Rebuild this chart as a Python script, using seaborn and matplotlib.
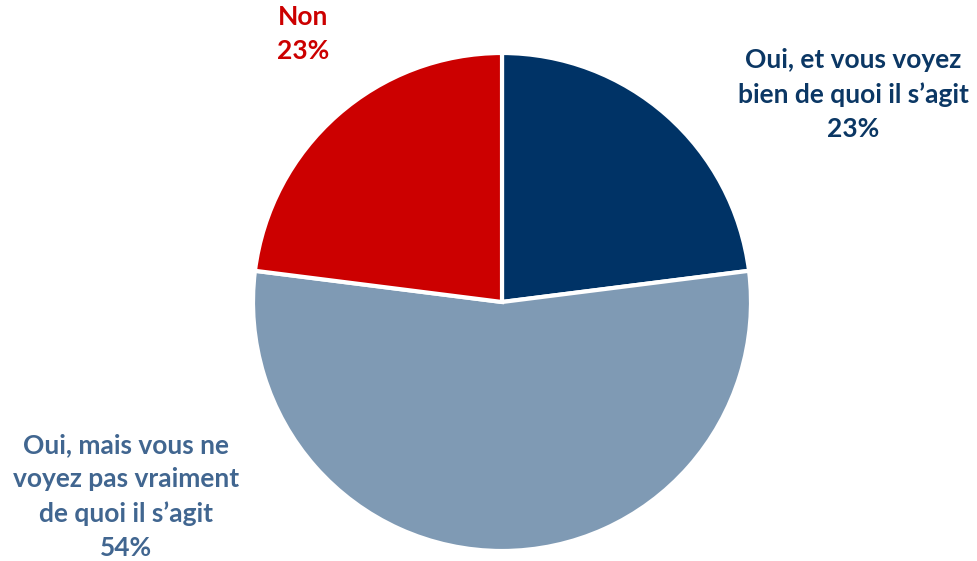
import matplotlib
matplotlib.use("Agg")
import matplotlib.pyplot as plt
import seaborn as sns

categories = ["Oui, et vous voyez\nbien de quoi il s\u2019agit",
              "Oui, mais vous ne\nvoyez pas vraiment\nde quoi il s\u2019agit",
              "Non"]
values = [23, 54, 23]
wedge_colors = ["#003366", "#7f9ab4", "#cc0000"]
label_colors = ["#0b3764", "#416690", "#cc0000"]

sns.set_theme(style="white")
plt.rcParams['font.family'] = ['Lato', 'DejaVu Sans']

W, H = 978, 561
fig = plt.figure(figsize=(W / 100, H / 100), dpi=100)
cx, cy, r = 502, 302, 249
ax = fig.add_axes([(cx - r) / W, (H - cy - r) / H, 2 * r / W, 2 * r / H])

ax.pie(values, colors=wedge_colors, startangle=90, counterclock=False,
       radius=1.0, wedgeprops=dict(edgecolor="white", linewidth=3))
ax.set_xlim(-1, 1)
ax.set_ylim(-1, 1)
ax.set_aspect("equal")
ax.axis("off")

label_pos = [(1.41, 0.835), (-1.51, -0.78), (-0.80, 1.075)]
for cat, v, col, (x, y) in zip(categories, values, label_colors, label_pos):
    ax.text(x, y, f"{cat}\n{v}%", ha="center", va="center", color=col,
            fontsize=19, fontweight="bold", linespacing=1.5, clip_on=False)

fig.savefig("out.png", dpi=100)
